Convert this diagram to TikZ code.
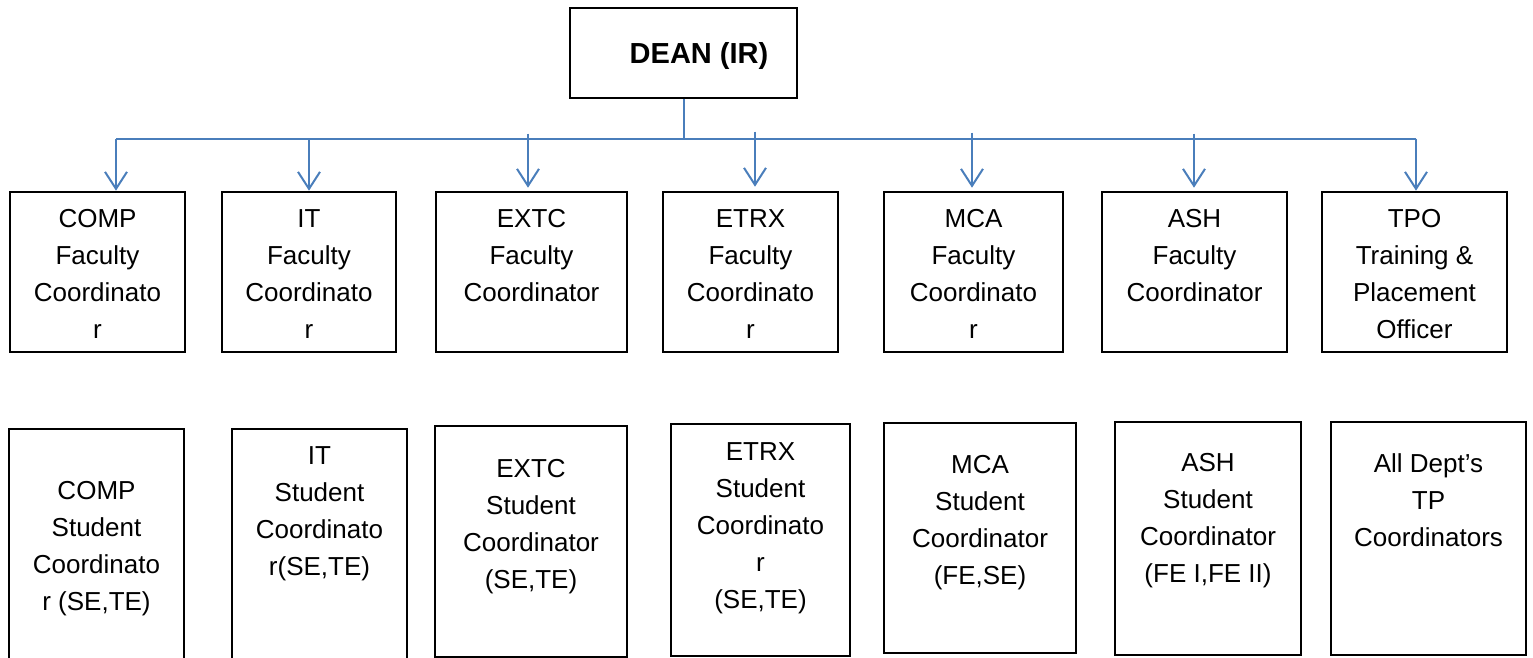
\documentclass[tikz,border=0pt]{standalone}
\usepackage{fontspec}
\setmainfont{Liberation Sans}
\usetikzlibrary{arrows.meta,calc}
\definecolor{linkblue}{RGB}{74,126,187}
\begin{document}
\begin{tikzpicture}[x=1pt,y=-1pt,
  deanbox/.style={draw=black, line width=2pt, minimum width=227pt, minimum height=90pt, inner sep=0pt},
  deantxt/.style={inner sep=0pt, font=\fontsize{29}{35}\selectfont\bfseries},
  facbox/.style={draw=black, line width=2.6pt, minimum height=160pt, inner sep=0pt},
  stubox/.style={draw=black, line width=1.8pt, inner sep=0pt},
  txt/.style={align=center, inner sep=0pt, font=\fontsize{26}{37}\selectfont},
  conn/.style={draw=linkblue, line width=2pt},
  arr/.style={conn, -{Straight Barb[length=17pt,width=22pt,line width=2pt]}}]
\useasboundingbox (0,0) rectangle (1533,658);

% Dean
\node[deanbox] (dean) at (683.5,53) {};
\node[deantxt] (deant) at (699,56) {DEAN (IR)};

% Faculty row (y 192--352)
\node[facbox, minimum width=175pt] (comp1) at (97.5,272) {};
\node[facbox, minimum width=174pt] (it1)   at (309,272) {};
\node[facbox, minimum width=191pt] (extc1) at (531.5,272) {};
\node[facbox, minimum width=175pt] (etrx1) at (750.5,272) {};
\node[facbox, minimum width=179pt] (mca1)  at (973.5,272) {};
\node[facbox, minimum width=185pt] (ash1)  at (1194.5,272) {};
\node[facbox, minimum width=185pt] (tpo1)  at (1414.5,272) {};

\node[txt] (comp1t) at (97.5,276) {\strut COMP\\Faculty\\Coordinato\\r\strut};
\node[txt] (it1t)   at (309,276) {\strut IT\\Faculty\\Coordinato\\r\strut};
\node[txt] (extc1t) at (531.5,257.5) {\strut EXTC\\Faculty\\Coordinator\strut};
\node[txt] (etrx1t) at (750.5,276) {\strut ETRX\\Faculty\\Coordinato\\r\strut};
\node[txt] (mca1t)  at (973.5,276) {\strut MCA\\Faculty\\Coordinato\\r\strut};
\node[txt] (ash1t)  at (1194.5,257.5) {\strut ASH\\Faculty\\Coordinator\strut};
\node[txt] (tpo1t)  at (1414.5,276) {\strut TPO\\Training \&\\Placement\\Officer\strut};

% Student row
\node[stubox, minimum width=175pt, minimum height=252pt] (comp2) at (96.5,555) {};
\node[stubox, minimum width=175pt, minimum height=252pt] (it2)   at (319.5,555) {};
\node[stubox, minimum width=192pt, minimum height=231pt] (extc2) at (531,541.5) {};
\node[stubox, minimum width=179pt, minimum height=232pt] (etrx2) at (760.5,540) {};
\node[stubox, minimum width=192pt, minimum height=230pt] (mca2)  at (980,538) {};
\node[stubox, minimum width=186pt, minimum height=233pt] (ash2)  at (1208,538.5) {};
\node[stubox, minimum width=195pt, minimum height=233pt] (all2)  at (1428.5,538.5) {};

\node[txt] (comp2t) at (96.5,548) {\strut COMP\\Student\\Coordinato\\r (SE,TE)\strut};
\node[txt] (it2t)   at (319.5,513) {\strut IT\\Student\\Coordinato\\r(SE,TE)\strut};
\node[txt] (extc2t) at (531,526) {\strut EXTC\\Student\\Coordinator\\(SE,TE)\strut};
\node[txt] (etrx2t) at (760.5,527) {\strut ETRX\\Student\\Coordinato\\r\\(SE,TE)\strut};
\node[txt] (mca2t)  at (980,522) {\strut MCA\\Student\\Coordinator\\(FE,SE)\strut};
\node[txt] (ash2t)  at (1208,520) {\strut ASH\\Student\\Coordinator\\(FE I,FE II)\strut};
\node[txt] (all2t)  at (1428.5,502) {\strut All Dept’s\\TP\\Coordinators\strut};

% Connectors
\coordinate (junc) at (683.5,140);
\coordinate (cl) at ($(comp1.north)+(18.5,-52)$);
\coordinate (cr) at ($(tpo1.north)+(1.5,-52)$);
\draw[conn] (dean.south) -- (junc);
\draw[conn] (cl) -- (cr);
\draw[arr] (cl) -- ($(comp1.north)+(18.5,0)$);
\draw[arr] (it1.north |- cl) -- (it1.north);
\draw[arr] ($(extc1.north)+(-3.5,-57)$) -- ($(extc1.north)+(-3.5,-3)$);
\draw[arr] ($(etrx1.north)+(4.5,-59)$) -- ($(etrx1.north)+(4.5,-4)$);
\draw[arr] ($(mca1.north)+(-1.5,-58)$) -- ($(mca1.north)+(-1.5,-3)$);
\draw[arr] ($(ash1.north)+(-0.5,-57)$) -- ($(ash1.north)+(-0.5,-3)$);
\draw[arr] (cr) -- ($(tpo1.north)+(1.5,0)$);
\end{tikzpicture}
\end{document}
